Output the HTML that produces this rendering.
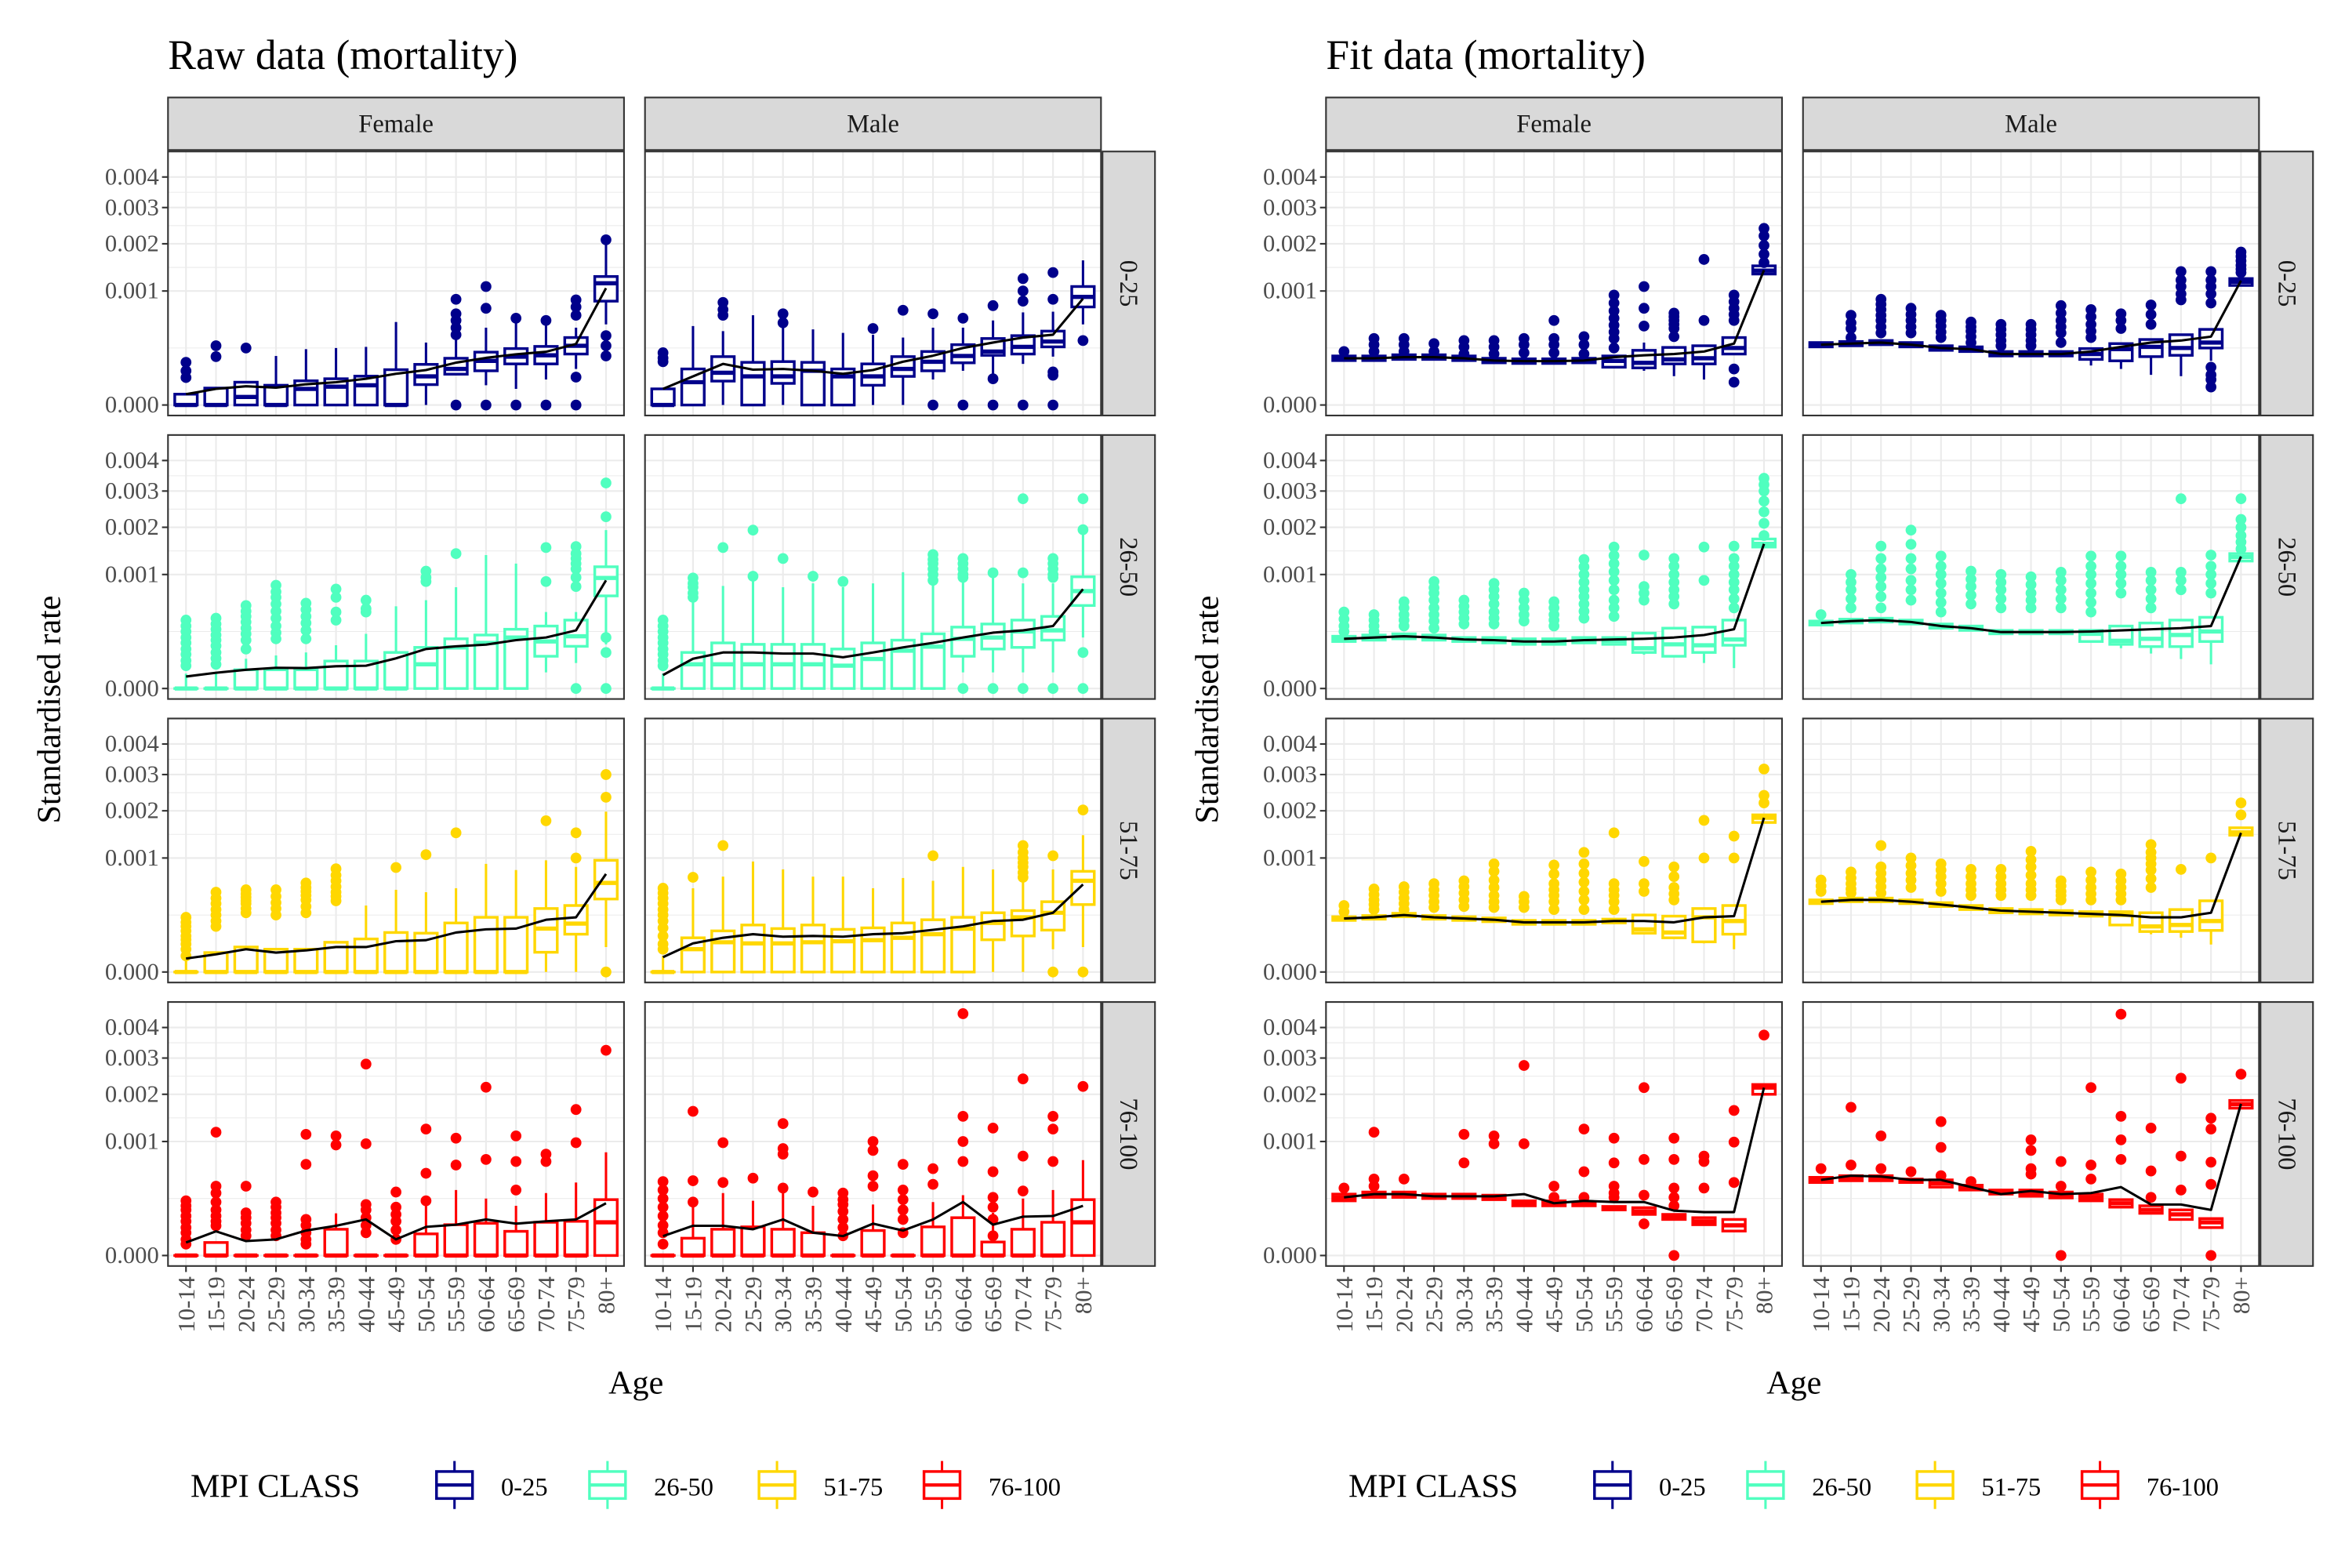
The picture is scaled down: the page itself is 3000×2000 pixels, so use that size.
<!DOCTYPE html>
<html><head><meta charset="utf-8">
<style>
html,body{margin:0;padding:0;background:#fff;}
svg{display:block;}
svg text{font-family:"Liberation Serif","DejaVu Serif",serif;}
</style></head>
<body>
<svg id="chart" width="3000" height="2000" viewBox="0 0 1568 1045.33" preserveAspectRatio="none" font-family="Liberation Serif, DejaVu Serif, serif" xmlns="http://www.w3.org/2000/svg">
<rect x="0" y="0" width="1568" height="1046" fill="#fff"/>
</svg>
<script>
// ---- shared axis data ----
const ageGroups = ["10-14","15-19","20-24","25-29","30-34","35-39","40-44","45-49","50-54","55-59","60-64","65-69","70-74","75-79","80+"];
const yTickValues = [0,1,2,3,4]; // rate x 1e-3
const yTickLabels = ["0.000","0.001","0.002","0.003","0.004"];
const mpiClasses = ["0-25","26-50","51-75","76-100"];
const mpiColors = ["#00008B","#50FFBF","#FFD700","#FF0000"];
const sexes = ["Female","Male"];

// ---- RAW data (rate x 1e-3) ----
const rawF025Mean=[.009,.020,.027,.023,.033,.040,.053,.075,.094,.138,.171,.198,.218,.287,1.05];
const rawF025Q1=[0,0,0,0,0,0,0,0,.032,.073,.09,.13,.13,.2,.83];
const rawF025Med=[0,0,.005,0,.02,.026,.03,0,.063,.1,.15,.18,.19,.27,1.14];
const rawF025Q3=[.009,.022,.04,.03,.045,.053,.064,.096,.127,.168,.215,.245,.264,.35,1.27];
const rawF025Whi=[.009,.022,.04,.185,.24,.25,.26,.53,.30,.36,.46,.53,.5,.46,2.2];
const rawF025Wlo=[0,0,0,0,0,0,0,0,0,.073,.03,.02,.05,.1,.5];
const rawF025Out=[[.14,.09,.058],[.27,.18],[.25],[],[],[],[],[],[],[.86,.64,.55,.46,.38,0],[1.08,.72,0],[.58,0],[.55,0],[.85,.74,.62,.06,0],[2.1,.37,.27,.185]];

const rawM025Mean=[.02,.063,.13,.096,.1,.09,.075,.094,.144,.187,.25,.3,.35,.38,.87];
const rawM025Q1=[0,0,.044,0,.036,0,0,.03,.063,.09,.137,.19,.2,.26,.74];
const rawM025Med=[0,.04,.08,.063,.063,.09,.063,.063,.1,.144,.185,.22,.26,.31,.9];
const rawM025Q3=[.02,.1,.18,.14,.145,.14,.1,.13,.18,.22,.28,.34,.37,.42,1.08];
const rawM025Whi=[.02,.48,.42,.62,.46,.44,.4,.38,.35,.46,.46,.55,.66,.67,1.61];
const rawM025Wlo=[0,0,0,0,0,0,0,0,0,.05,.09,.07,.13,.18,.5];
const rawM025Out=[[.21,.17,.144],[],[.81,.7,.62],[],[.64,.52],[],[],[.45],[.69],[.64,0],[.58,0],[.76,.053,0],[1.23,1.0,.83,0],[1.35,.86,.084,.068,0],[.32]];

const rawF2650Mean=[.011,.019,.027,.033,.032,.038,.04,.07,.12,.137,.148,.18,.2,.26,.9];
const rawF2650Q1=[0,0,0,0,0,0,0,0,0,0,0,0,.08,.137,.66];
const rawF2650Med=[0,0,0,0,0,0,0,0,.045,.13,.16,.2,.17,.21,.94];
const rawF2650Q3=[0,0,.027,.027,.027,.058,.058,.1,.13,.19,.22,.27,.3,.36,1.14];
const rawF2650Whi=[.017,.017,.068,.084,.1,.144,.23,.52,.6,.79,1.37,1.2,.45,.45,1.93];
const rawF2650Wlo=[0,0,0,0,0,0,0,0,0,0,0,0,.02,.05,.15];
const rawF2650Out=[[.36,.3,.25,.2,.16,.12,.09,.06,.04],[.38,.32,.27,.22,.18,.14,.1,.07,.045],[.53,.46,.4,.34,.28,.23,.18,.12],[.82,.72,.64,.55,.46,.38,.3,.24,.19],[.56,.48,.4,.33,.26,.19],[.76,.64,.45,.36],[.6,.49,.45],[],[1.06,.95,.88],[1.4],[],[],[1.53,.88],[1.55,1.4,1.3,1.2,1.1,.95,.8,0],[3.25,2.27,.2,.1,0]];

const rawM2650Mean=[.014,.068,.1,.1,.094,.094,.075,.1,.13,.16,.2,.24,.26,.3,.76];
const rawM2650Q1=[0,0,0,0,0,0,0,0,0,0,.08,.12,.13,.18,.53];
const rawM2650Med=[0,.045,.045,.045,.045,.045,.04,.067,.11,.135,.19,.2,.25,.26,.73];
const rawM2650Q3=[0,.1,.16,.15,.15,.15,.12,.16,.18,.23,.29,.32,.36,.4,.96];
const rawM2650Whi=[.017,.58,.81,.9,.79,.85,.79,.85,1.04,1.06,1.04,.96,.85,.85,1.93];
const rawM2650Wlo=[0,0,0,0,0,0,0,0,0,0,.02,.02,.02,.02,.2];
const rawM2650Out=[[.36,.3,.25,.2,.16,.12,.09,.06,.04],[.94,.85,.79,.7,.64],[1.53],[1.93,.97],[1.3],[.97],[.88],[],[],[1.38,1.28,1.2,1.1,1.0,.9],[1.3,1.2,1.1,1.0,.95,0],[1.03,0],[2.77,1.03,0],[1.3,1.2,1.1,1.0,.95,0],[2.77,1.94,.1,0]];

const rawF5175Mean=[.014,.024,.04,.029,.036,.048,.048,.073,.078,.12,.14,.145,.21,.23,.74];
const rawF5175Q1=[0,0,0,0,0,0,0,0,0,0,0,0,.03,.11,.41];
const rawF5175Med=[0,0,0,0,0,0,0,0,0,0,0,0,.145,.18,.61];
const rawF5175Q3=[0,.029,.048,.04,.04,.068,.084,.12,.116,.185,.23,.23,.31,.34,.96];
const rawF5175Whi=[.01,.029,.048,.04,.04,.068,.34,.52,.49,.54,.9,.8,.96,.85,1.98];
const rawF5175Wlo=[0,0,0,0,0,0,0,0,0,0,0,0,0,0,.048];
const rawF5175Out=[[.23,.19,.16,.13,.1,.08,.06,.04,.02],[.49,.42,.36,.3,.25,.2,.16],[.52,.47,.43,.39,.36,.31,.27],[.52,.44,.37,.31,.25],[.61,.55,.5,.45,.4,.33,.27],[.82,.72,.64,.56,.49,.44,.39],[],[.84],[1.06],[1.49],[],[],[1.76],[1.49,1.0],[3.0,2.35,0]];

const rawM5175Mean=[.017,.063,.09,.11,.096,.1,.096,.11,.116,.137,.16,.2,.21,.27,.59];
const rawM5175Q1=[0,0,0,0,0,0,0,0,0,0,0,.08,.1,.135,.35];
const rawM5175Med=[0,.04,.068,.063,.063,.068,.073,.078,.09,.11,.144,.185,.23,.27,.64];
const rawM5175Q3=[0,.09,.13,.17,.145,.17,.14,.15,.185,.21,.23,.27,.29,.38,.78];
const rawM5175Whi=[.02,.54,.7,.94,.81,.7,.7,.54,.68,.64,.85,.81,.74,.81,1.44];
const rawM5175Wlo=[0,0,0,0,0,0,0,0,0,0,0,0,0,.04,.048];
const rawM5175Out=[[.54,.48,.42,.36,.3,.25,.2,.15,.1,.06,.04],[.69],[1.23],[],[],[],[],[],[],[1.04],[],[],[1.23,1.1,1.0,.92,.85,.76,.69],[1.04,0],[2.02,0]];

const rawF76Mean=[.013,.045,.016,.02,.048,.068,.1,.02,.063,.073,.1,.078,.09,.1,.21];
const rawF76Q1=[0,0,0,0,0,0,0,0,0,0,0,0,0,0,0];
const rawF76Med=[0,0,0,0,0,0,0,0,0,0,0,0,0,0,.085];
const rawF76Q3=[0,.013,0,0,0,.053,0,0,.036,.073,.08,.045,.085,.09,.24];
const rawF76Whi=[0,.013,0,0,0,.137,0,0,.19,.33,.25,.19,.3,.41,.82];
const rawF76Out=[[.23,.19,.16,.12,.09,.06,.04,.02,.01],[1.17,.37,.3,.22,.16,.12,.09,.068],[.37,.14,.11,.08,.05,.03],[.22,.18,.14,.11,.08,.05,.03],[1.13,.64,.1,.07,.04,.02,.01],[1.1,.94],[2.82,.96,.2,.16,.11,.07,.04],[.31,.18,.13,.09,.05,.02],[1.23,.52,.23],[1.06,.63],[2.18,.71],[1.1,.68,.33],[.79,.68],[1.64,.98],[3.24]];

const rawM76Mean=[.029,.068,.068,.053,.1,.04,.029,.078,.048,.1,.22,.073,.116,.12,.19];
const rawM76Q1=[0,0,0,0,0,0,0,0,0,0,0,0,0,0,0];
const rawM76Med=[0,0,0,0,0,0,0,0,0,0,0,0,0,0,.085];
const rawM76Q3=[0,.023,.053,.063,.053,.04,0,.048,0,.063,.11,.014,.053,.085,.24];
const rawM76Whi=[0,.2,.3,.23,.3,.19,0,.2,0,.22,.28,.14,.25,.33,.7];
const rawM76Out=[[.42,.33,.25,.18,.12,.07,.04,.01],[1.6,.43,.22],[.98,.41],[.46],[1.34,.88,.79,.35],[.31],[.3,.24,.2,.15,.1,.06,.03],[1.0,.85,.49,.37],[.64,.33,.24,.16,.1,.04],[.58,.39],[4.5,1.49,1.0,.68],[1.25,.54,.26,.18,.1,.03],[2.4,.76,.32],[1.49,1.23,.68],[2.2]];

// ---- FIT data (rate x 1e-3) ----
const fitF025Mean=[.168,.168,.176,.176,.168,.152,.148,.148,.152,.176,.19,.2,.22,.29,1.4];
const fitF025Q1=[.152,.152,.16,.16,.152,.137,.133,.133,.137,.11,.106,.13,.13,.2,1.32];
const fitF025Med=[.168,.168,.176,.176,.168,.152,.148,.148,.152,.15,.137,.16,.168,.25,1.39];
const fitF025Q3=[.185,.185,.194,.194,.185,.168,.164,.164,.168,.185,.23,.255,.27,.35,1.49];
const fitF025Whi=[.185,.185,.194,.194,.185,.168,.164,.164,.168,.185,.3,.255,.27,.35,1.49];
const fitF025Wlo=[.152,.152,.16,.16,.152,.137,.133,.133,.137,.11,.09,.064,.05,.2,1.32];
const fitF025Out=[[.22],[.34,.28,.22],[.34,.28,.22],[.29,.22],[.32,.26,.2],[.32,.26,.2],[.34,.28,.21],[.55,.34,.28,.21],[.36,.28,.2],[.93,.8,.68,.58,.49,.41,.34,.25],[1.08,.72,.48],[.65,.6,.55,.5,.45,.36],[1.63,.55],[.93,.82,.72,.63,.55,.1,.04],[2.4,2.2,1.96,1.75,1.56]];

const fitM025Mean=[.28,.29,.3,.28,.25,.24,.2,.2,.2,.22,.26,.3,.32,.36,1.19];
const fitM025Q1=[.26,.27,.28,.26,.23,.22,.185,.185,.185,.16,.15,.18,.19,.25,1.1];
const fitM025Med=[.28,.29,.3,.28,.25,.24,.2,.2,.2,.2,.24,.26,.25,.3,1.17];
const fitM025Q3=[.3,.31,.32,.3,.27,.26,.22,.22,.22,.245,.29,.33,.38,.44,1.23];
const fitM025Whi=[.3,.31,.32,.3,.27,.26,.22,.22,.22,.245,.29,.33,.38,.44,1.23];
const fitM025Wlo=[.26,.27,.28,.26,.23,.22,.185,.185,.185,.12,.1,.07,.064,.15,1.1];
const fitM025Out=[[],[.62,.52,.45,.35],[.86,.78,.7,.62,.55,.47,.4],[.72,.63,.55,.47,.4],[.62,.55,.48,.41,.35],[.53,.47,.42,.36,.3],[.5,.44,.38,.32,.27],[.5,.44,.38,.32,.27],[.76,.65,.55,.47,.4,.3],[.7,.6,.5,.42,.35],[.64,.55,.45],[.77,.63,.5],[1.37,1.2,1.08,.95,.85],[1.37,1.2,1.08,.95,.8,.11,.07,.05,.025],[1.8,1.7,1.6,1.5,1.42,1.35]];

const fitF2650Mean=[.19,.2,.21,.2,.185,.18,.17,.17,.18,.185,.19,.2,.22,.27,1.61];
const fitF2650Q1=[.17,.18,.19,.18,.17,.16,.15,.15,.16,.15,.1,.08,.1,.144,1.54];
const fitF2650Med=[.19,.2,.21,.2,.185,.18,.17,.17,.18,.175,.125,.15,.144,.185,1.61];
const fitF2650Q3=[.21,.22,.23,.22,.2,.2,.19,.19,.2,.2,.236,.28,.29,.36,1.72];
const fitF2650Whi=[.21,.22,.23,.22,.2,.2,.19,.19,.2,.2,.236,.28,.29,.36,1.72];
const fitF2650Wlo=[.17,.18,.19,.18,.17,.16,.15,.15,.16,.15,.088,.075,.05,.032,1.54];
const fitF2650Out=[[.45,.37,.3,.25],[.42,.36,.3,.25],[.58,.5,.42,.36,.3],[.88,.78,.7,.6,.5,.42,.35,.28],[.6,.52,.45,.38,.32],[.85,.75,.65,.55,.45,.38,.32],[.7,.6,.5,.42,.35],[.58,.5,.42,.36,.3],[1.28,1.14,1.0,.87,.75,.65,.55,.46,.38],[1.54,1.36,1.2,1.05,.9,.75,.6,.5,.4],[1.37,.8,.7,.6],[1.3,1.15,1.0,.87,.75,.65,.55],[1.54,.9],[1.56,1.3,1.15,1.0,.87,.75,.62,.5],[3.4,3.2,3.0,2.7,2.4,2.1,1.8]];

const fitM2650Mean=[.33,.35,.36,.34,.3,.28,.245,.245,.245,.25,.26,.27,.28,.3,1.34];
const fitM2650Q1=[.31,.33,.34,.32,.28,.26,.23,.23,.23,.17,.15,.135,.135,.17,1.25];
const fitM2650Med=[.33,.35,.36,.34,.3,.28,.245,.245,.245,.23,.175,.19,.22,.25,1.33];
const fitM2650Q3=[.35,.37,.38,.36,.32,.3,.26,.26,.26,.26,.3,.33,.36,.39,1.4];
const fitM2650Whi=[.35,.37,.38,.36,.32,.3,.26,.26,.26,.26,.3,.33,.36,.39,1.4];
const fitM2650Wlo=[.31,.33,.34,.32,.28,.26,.23,.23,.23,.17,.125,.094,.067,.045,1.25];
const fitM2650Out=[[.42],[1.0,.87,.75,.62,.5],[1.56,1.3,1.1,.95,.8,.65,.5],[1.93,1.6,1.3,1.1,.9,.75,.6],[1.35,1.15,1.0,.85,.7,.57,.45],[1.06,.92,.8,.67,.55],[1.0,.87,.75,.62,.5],[.96,.83,.7,.6,.5],[1.04,.9,.75,.62,.5],[1.35,1.15,1.0,.85,.7,.57,.45],[1.35,1.15,1.0,.85,.7],[1.04,.9,.75,.62,.5],[2.77,1.04,.9,.75],[1.37,1.15,1.0,.85,.7],[2.77,2.2,2.0,1.8,1.65,1.5]];

const fitF5175Mean=[.22,.23,.25,.23,.22,.21,.19,.19,.19,.2,.2,.19,.23,.24,1.83];
const fitF5175Q1=[.205,.215,.235,.215,.205,.195,.175,.175,.175,.185,.116,.09,.07,.11,1.72];
const fitF5175Med=[.22,.23,.25,.23,.22,.21,.19,.19,.19,.2,.14,.12,.23,.2,1.83];
const fitF5175Q3=[.235,.245,.265,.245,.235,.225,.205,.205,.205,.215,.25,.24,.31,.34,1.9];
const fitF5175Whi=[.235,.245,.265,.245,.235,.225,.205,.205,.205,.215,.25,.24,.31,.34,1.9];
const fitF5175Wlo=[.205,.215,.235,.215,.205,.195,.175,.175,.175,.185,.11,.085,.063,.04,1.72];
const fitF5175Out=[[.34,.28],[.53,.46,.4,.35,.3],[.56,.49,.42,.36,.3],[.6,.52,.45,.38,.32],[.64,.56,.48,.4,.33],[.9,.78,.65,.55,.45,.38,.32],[.44,.38,.32],[.88,.74,.6,.52,.45,.38,.3],[1.1,.9,.75,.62,.5,.4,.3],[1.49,.6,.52,.45,.38,.3],[.94,.6,.5],[.85,.7,.55,.47,.4],[1.77,1.0],[1.42,1.0],[3.17,2.4,2.2]];

const fitM5175Mean=[.38,.4,.4,.38,.35,.32,.29,.28,.27,.26,.25,.23,.23,.27,1.49];
const fitM5175Q1=[.36,.38,.38,.36,.33,.3,.27,.26,.25,.24,.17,.126,.126,.133,1.44];
const fitM5175Med=[.38,.4,.4,.38,.35,.32,.29,.28,.27,.26,.25,.16,.17,.2,1.5];
const fitM5175Q3=[.4,.42,.42,.4,.37,.34,.31,.3,.29,.28,.28,.27,.3,.39,1.6];
const fitM5175Whi=[.4,.42,.42,.4,.37,.34,.31,.3,.29,.28,.28,.27,.3,.39,1.6];
const fitM5175Wlo=[.36,.38,.38,.36,.33,.3,.27,.26,.25,.24,.17,.11,.09,.058,1.44];
const fitM5175Out=[[.65,.57,.5],[.77,.68,.6,.53,.48],[1.23,.85,.75,.65,.56,.48],[1.0,.87,.75,.65,.55],[.9,.8,.7,.6,.5],[.81,.7,.6,.52,.45],[.81,.7,.6,.52,.45],[1.12,.97,.85,.72,.6,.52,.45],[.64,.57,.5,.45,.4],[.77,.65,.55,.47,.4],[.74,.64,.55,.47,.4],[1.25,1.1,1.0,.9,.8,.67,.55],[.81],[1.0],[2.2,1.9]];

const fitF76Mean=[.26,.29,.29,.27,.27,.27,.29,.21,.23,.22,.22,.155,.145,.145,2.17];
const fitF76Q1=[.23,.26,.26,.25,.25,.24,.19,.19,.19,.16,.13,.1,.073,.046,2.0];
const fitF76Med=[.26,.285,.285,.27,.27,.26,.21,.21,.2,.17,.15,.11,.09,.07,2.17];
const fitF76Q3=[.29,.31,.31,.29,.29,.28,.23,.23,.22,.185,.176,.13,.11,.1,2.25];
const fitF76Out=[[.35],[1.17,.45,.37],[.45],[],[1.13,.66],[1.1,.96],[2.78,.96],[.37,.26],[1.23,.54,.26],[1.06,.66,.37,.3,.26],[2.17,.71,.28,.077],[1.06,.71,.35,.26,.19,0],[.76,.68,.35],[1.62,.99,.41],[3.74]];

const fitM76Mean=[.44,.49,.48,.44,.44,.36,.29,.32,.29,.3,.36,.2,.2,.16,1.77];
const fitM76Q1=[.41,.43,.43,.41,.36,.33,.29,.27,.255,.23,.18,.137,.1,.06,1.67];
const fitM76Med=[.44,.46,.46,.43,.4,.355,.31,.3,.28,.26,.21,.16,.13,.085,1.76];
const fitM76Q3=[.47,.49,.49,.45,.44,.38,.33,.33,.31,.29,.24,.19,.16,.105,1.85];
const fitM76Out=[[.58],[1.69,.63],[1.1,.58],[.54],[1.38,.9,.49],[.42],[],[1.03,.85,.58,.51],[.68,.37,0],[2.17,.63,.45],[4.48,1.49,1.03,.71],[1.25,.55,.26],[2.42,.76,.33],[1.45,1.23,.67,.39,0],[2.53]];

// ---- layout ----
const NS="http://www.w3.org/2000/svg";
const svg=document.getElementById('chart');
const FONT="Liberation Serif, DejaVu Serif, serif";
const PW=304, PH=176, ROW0=101, ROWSTEP=189, ZOFF=169, YS=76;
const colLefts=[[112,430],[884,1202]];
function mk(tag,attrs,parent){const e=document.createElementNS(NS,tag);for(const k in attrs)e.setAttribute(k,attrs[k]);if(tag==='text')e.setAttribute('font-family',FONT);(parent||svg).appendChild(e);return e;}
function yScale(row,v){return ROW0+ROWSTEP*row+ZOFF-YS*Math.sqrt(Math.max(0,v));}
function xScale(left,i){return left+12+(PW-24)/(ageGroups.length-1)*i;}

const panels=[
 [0,0,0,0,rawF025Mean,rawF025Q1,rawF025Med,rawF025Q3,rawF025Whi,rawF025Wlo,rawF025Out],
 [0,1,0,0,rawM025Mean,rawM025Q1,rawM025Med,rawM025Q3,rawM025Whi,rawM025Wlo,rawM025Out],
 [0,0,1,1,rawF2650Mean,rawF2650Q1,rawF2650Med,rawF2650Q3,rawF2650Whi,rawF2650Wlo,rawF2650Out],
 [0,1,1,1,rawM2650Mean,rawM2650Q1,rawM2650Med,rawM2650Q3,rawM2650Whi,rawM2650Wlo,rawM2650Out],
 [0,0,2,2,rawF5175Mean,rawF5175Q1,rawF5175Med,rawF5175Q3,rawF5175Whi,rawF5175Wlo,rawF5175Out],
 [0,1,2,2,rawM5175Mean,rawM5175Q1,rawM5175Med,rawM5175Q3,rawM5175Whi,rawM5175Wlo,rawM5175Out],
 [0,0,3,3,rawF76Mean,rawF76Q1,rawF76Med,rawF76Q3,rawF76Whi,null,rawF76Out],
 [0,1,3,3,rawM76Mean,rawM76Q1,rawM76Med,rawM76Q3,rawM76Whi,null,rawM76Out],
 [1,0,0,0,fitF025Mean,fitF025Q1,fitF025Med,fitF025Q3,fitF025Whi,fitF025Wlo,fitF025Out],
 [1,1,0,0,fitM025Mean,fitM025Q1,fitM025Med,fitM025Q3,fitM025Whi,fitM025Wlo,fitM025Out],
 [1,0,1,1,fitF2650Mean,fitF2650Q1,fitF2650Med,fitF2650Q3,fitF2650Whi,fitF2650Wlo,fitF2650Out],
 [1,1,1,1,fitM2650Mean,fitM2650Q1,fitM2650Med,fitM2650Q3,fitM2650Whi,fitM2650Wlo,fitM2650Out],
 [1,0,2,2,fitF5175Mean,fitF5175Q1,fitF5175Med,fitF5175Q3,fitF5175Whi,fitF5175Wlo,fitF5175Out],
 [1,1,2,2,fitM5175Mean,fitM5175Q1,fitM5175Med,fitM5175Q3,fitM5175Whi,fitM5175Wlo,fitM5175Out],
 [1,0,3,3,fitF76Mean,fitF76Q1,fitF76Med,fitF76Q3,null,null,fitF76Out],
 [1,1,3,3,fitM76Mean,fitM76Q1,fitM76Med,fitM76Q3,null,null,fitM76Out]
];

panels.forEach(p=>{
  const [fig,col,row,cls,mean,q1,med,q3,whi,wlo,out]=p;
  const left=colLefts[fig][col], top=ROW0+ROWSTEP*row, color=mpiColors[cls];
  const g=mk('g',{});
  
  
  mk('rect',{x:left,y:top,width:PW,height:PH,fill:'#fff'},g);
  const clipId='c'+fig+col+row;
  const cp=mk('clipPath',{id:clipId},g);mk('rect',{x:left,y:top,width:PW,height:PH},cp);
  const inner=mk('g',{'clip-path':'url(#'+clipId+')'},g);
  const sv=yTickValues.map(v=>Math.sqrt(v));
  for(let i=0;i<sv.length-1;i++){const m=(sv[i]+sv[i+1])/2;const y=top+ZOFF-YS*m;mk('line',{x1:left,x2:left+PW,y1:y,y2:y,stroke:'#EBEBEB','stroke-width':0.55},inner);}
  yTickValues.forEach(v=>{const y=yScale(row,v);mk('line',{x1:left,x2:left+PW,y1:y,y2:y,stroke:'#EBEBEB','stroke-width':1.1},inner);});
  ageGroups.forEach((a,i)=>{const x=xScale(left,i);mk('line',{x1:x,x2:x,y1:top,y2:top+PH,stroke:'#EBEBEB','stroke-width':1.1},inner);});
  ageGroups.forEach((a,i)=>{
    const x=xScale(left,i), bw=15;
    const bg=mk('g',{},inner);
    
    
    const hi=whi?whi[i]:q3[i], lo=wlo?wlo[i]:q1[i];
    const yq1=yScale(row,q1[i]), yq3=yScale(row,q3[i]);
    mk('line',{x1:x,x2:x,y1:yScale(row,hi),y2:yq3,stroke:color,'stroke-width':1.6},bg);
    mk('line',{x1:x,x2:x,y1:yq1,y2:yScale(row,lo),stroke:color,'stroke-width':1.6},bg);
    mk('rect',{x:x-bw/2,y:yq3,width:bw,height:Math.max(0.01,yq1-yq3),fill:'#fff',stroke:color,'stroke-width':1.8},bg);
    const ym=yScale(row,med[i]);
    mk('line',{x1:x-bw/2,x2:x+bw/2,y1:ym,y2:ym,stroke:color,'stroke-width':2.8},bg);
    out[i].forEach(v=>{mk('circle',{cx:x,cy:yScale(row,v),r:3.6,fill:color},bg);});
  });
  const pts=mean.map((v,i)=>xScale(left,i).toFixed(2)+','+yScale(row,v).toFixed(2)).join(' ');
  const ml=mk('polyline',{points:pts,fill:'none',stroke:'#000','stroke-width':1.6,'stroke-linejoin':'round'},inner);
  
  
  mk('rect',{x:left,y:top,width:PW,height:PH,fill:'none',stroke:'#333','stroke-width':1.1},g);
  if(col===0){
    yTickValues.forEach((v,k)=>{const y=yScale(row,v);
      mk('line',{x1:left-4,x2:left,y1:y,y2:y,stroke:'#333','stroke-width':1.1},g);
      const t=mk('text',{x:left-6,y:y+5,'text-anchor':'end','font-size':16,fill:'#4D4D4D'},g);t.textContent=yTickLabels[k];
      
      
    });
  }
  if(col===1){
    const sx=left+PW+1;
    mk('rect',{x:sx,y:top,width:35,height:PH,fill:'#D9D9D9',stroke:'#333','stroke-width':1.1},g);
    const t=mk('text',{x:0,y:0,'text-anchor':'middle','font-size':17,fill:'#1A1A1A',transform:'translate('+(sx+12)+','+(top+PH/2)+') rotate(90)'},g);
    t.textContent=mpiClasses[cls];
    
    
  }
  if(row===3){
    ageGroups.forEach((a,i)=>{const x=xScale(left,i);
      mk('line',{x1:x,x2:x,y1:top+PH,y2:top+PH+4,stroke:'#333','stroke-width':1.1},g);
      const t=mk('text',{x:0,y:0,'text-anchor':'end','font-size':16,fill:'#4D4D4D',transform:'translate('+(x+5.5)+','+(top+PH+7)+') rotate(-90)'},g);
      t.textContent=a;
      
      
    });
  }
  if(row===0){
    mk('rect',{x:left,y:65,width:PW,height:35,fill:'#D9D9D9',stroke:'#333','stroke-width':1.1},g);
    const t=mk('text',{x:left+PW/2,y:88,'text-anchor':'middle','font-size':17,fill:'#1A1A1A'},g);
    t.textContent=sexes[col];
    
    
  }
});

[0,1].forEach(fig=>{
  const off=fig*772;
  const tt=mk('text',{x:112+off,y:46,'font-size':28,fill:'#000'});
  tt.textContent=fig?'Fit data (mortality)':'Raw data (mortality)';
  
  
  const yt=mk('text',{x:0,y:0,'text-anchor':'middle','font-size':22,fill:'#000',transform:'translate('+(40+off)+',473) rotate(-90)'});
  yt.textContent='Standardised rate';
  
  
  const xt=mk('text',{x:424+off,y:929,'text-anchor':'middle','font-size':22,fill:'#000'});
  xt.textContent='Age';
  
  
  const lt=mk('text',{x:127+off,y:998,'font-size':22,fill:'#000'});
  lt.textContent='MPI CLASS';
  
  
  const keyX=[288,390,503,613];
  mpiClasses.forEach((c,k)=>{
    const kx=keyX[k]+off, col=mpiColors[k];
    const lg=mk('g',{});
    
    
    mk('line',{x1:kx+15,x2:kx+15,y1:974,y2:1006,stroke:col,'stroke-width':1.6},lg);
    mk('rect',{x:kx+3,y:981,width:24,height:18,fill:'#fff',stroke:col,'stroke-width':1.8},lg);
    mk('line',{x1:kx+3,x2:kx+27,y1:990,y2:990,stroke:col,'stroke-width':2.2},lg);
    const t=mk('text',{x:kx+46,y:997,'font-size':17,fill:'#000'},lg);t.textContent=c;
  });
});
</script>
</body></html>
